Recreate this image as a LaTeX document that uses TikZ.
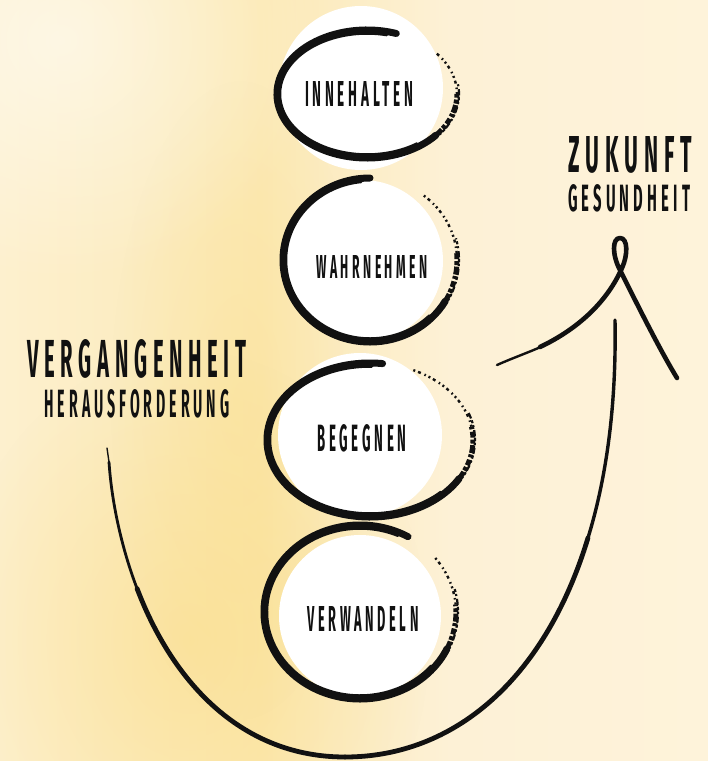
\documentclass[tikz,border=0pt]{standalone}
\usepackage{fontspec}
\usepackage{graphicx}
\usetikzlibrary{fadings}
\newfontfamily\handfont[LetterSpace=28]{Fira Sans}
\newcommand\handtext[3]{\resizebox{#1pt}{#2pt}{\handfont\fontseries{sb}\selectfont #3}}
\definecolor{bgA}{HTML}{FDF0CE}
\definecolor{bgB}{HTML}{FCECC0}
\definecolor{bgC}{HTML}{FCE9B3}
\definecolor{bgD}{HTML}{FCECC2}
\definecolor{bgE}{HTML}{FDF1D6}
\definecolor{bgF}{HTML}{FEF3DA}
\definecolor{blobY}{HTML}{FADB80}
\definecolor{ink}{HTML}{111111}
\pgfdeclarehorizontalshading{bgshade}{100bp}{color(0bp)=(bgA); color(25bp)=(bgA); color(35.6bp)=(bgB); color(43.4bp)=(bgC); color(48.3bp)=(bgD); color(56.8bp)=(bgE); color(75bp)=(bgF); color(100bp)=(bgF)}
\tikzfading[name=softblob, inner color=transparent!0, outer color=transparent!100]
\newcommand\inkring[8]{%
  \draw[inkthick] (#1,#2) ++(#5:#3 and #4) arc[start angle=#5, end angle=#6, x radius=#3, y radius=#4];
  \draw[inkthin] (#1,#2) ++(#5-6:#3-2.5 and #4-3) arc[start angle=#5-6, end angle=#6+15, x radius=#3-2.5, y radius=#4-3];
  \draw[inkrough] (#1,#2) ++(#6:#3 and #4) arc[start angle=#6, end angle=#7, x radius=#3, y radius=#4];
  \draw[inkrough2] (#1,#2) ++(#6+8:#3+2 and #4+2) arc[start angle=#6+8, end angle=#7-10, x radius=#3+2, y radius=#4+2];
  \draw[inkspeck] (#1,#2) ++(#7:#3 and #4) arc[start angle=#7, end angle=#8, x radius=#3, y radius=#4];
}
\begin{document}
\begin{tikzpicture}[x=1pt,y=-1pt,
  disc/.style={circle, fill=white, inner sep=0pt},
  lbl/.style={inner sep=0pt, text=ink},
  inkthick/.style={draw=ink, line width=7pt, line cap=round},
  inkthin/.style={draw=ink, line width=3.5pt, line cap=round},
  inkrough/.style={draw=ink, line width=5pt, dash pattern=on 8pt off 1.5pt on 4pt off 2pt on 6pt off 2.5pt on 3pt off 1.5pt},
  inkrough2/.style={draw=ink, line width=2.2pt, dash pattern=on 3pt off 2pt on 6pt off 3pt on 2pt off 2pt},
  inkspeck/.style={draw=ink, line width=2.4pt, dash pattern=on 2pt off 3pt on 1.5pt off 4pt on 3pt off 3pt},
  brush/.style={draw=ink, line cap=round, line join=round}]
% background
\shade[shading=bgshade] (0,0) rectangle (708,761);
\useasboundingbox (0,0) rectangle (708,761);
\fill[blobY, opacity=0.5, path fading=softblob] (190,640) ellipse (240 and 290);
\fill[blobY, opacity=0.3, path fading=softblob] (240,400) ellipse (130 and 320);
\fill[white, opacity=0.5, path fading=softblob] (60,40) ellipse (260 and 240);
% white discs
\node[disc, minimum size=164pt] (c1) at (361,88) {};
\node[disc, minimum size=162pt] (c2) at (362,261) {};
\node[disc, minimum size=164pt] (c3) at (360,435) {};
\node[disc, minimum size=162pt] (c4) at (360,616) {};
% ink rings
\inkring{367}{94}{90}{64}{289}{40}{0}{-40}
\inkring{370}{260}{87}{82}{270}{30}{-5}{-52}
\inkring{370}{440}{103}{77}{277}{30}{-10}{-66}
\inkring{360}{612}{96}{87}{300}{25}{-5}{-40}
% labels
\node[lbl] (l1) at (359,94) {\handtext{108}{25}{INNEHALTEN}};
\node[lbl] (l2) at (372,267) {\handtext{111}{23}{WAHRNEHMEN}};
\node[lbl] (l3) at (362,438) {\handtext{89}{27}{BEGEGNEN}};
\node[lbl] (l4) at (363,619) {\handtext{111}{25}{VERWANDELN}};
\node[lbl] (fut) at (630,155) {\handtext{124}{36}{ZUKUNFT}};
\node[lbl] (futsub) at (629,198) {\handtext{122}{27}{GESUNDHEIT}};
\node[lbl] (past) at (137,359) {\handtext{219}{38}{VERGANGENHEIT}};
\node[lbl] (pastsub) at (137,404) {\handtext{185}{28}{HERAUSFORDERUNG}};
% big U arrow
\coordinate (ustart) at (107,448);
\coordinate (ubot) at (345,757);
\coordinate (uend) at (615,320);
\draw[brush, line width=1.4pt] (ustart) -- (109,462);
\draw[brush, line width=2.8pt] (109,462) .. controls (111.6,501.5) and (121.32,547.28) .. (137.08,588.59);
\draw[brush, line width=4.8pt] (137.08,588.59) .. controls (173.85,684.97) and (243.5,757) .. (ubot);
\draw[brush, line width=4.8pt] (ubot) .. controls (453.5,757) and (544.85,680.07) .. (587.98,537.87);
\draw[brush, line width=3.4pt] (587.98,537.87) .. controls (606.75,476.93) and (616.5,404) .. (uend);
% arrow head with loop
\coordinate (arrL) at (497,365);
\coordinate (arrR) at (677,378);
\draw[brush, line width=2.4pt] (arrL) .. controls (515,357) and (530,352) .. (545,345);
\draw[brush, line width=4.6pt] (540,347) .. controls (580,328) and (608,300) .. (622,268)
  .. controls (628,255) and (628,238) .. (620,238)
  .. controls (612,238) and (612,255) .. (620,270)
  .. controls (640,310) and (660,350) .. (arrR);
\end{tikzpicture}
\end{document}
